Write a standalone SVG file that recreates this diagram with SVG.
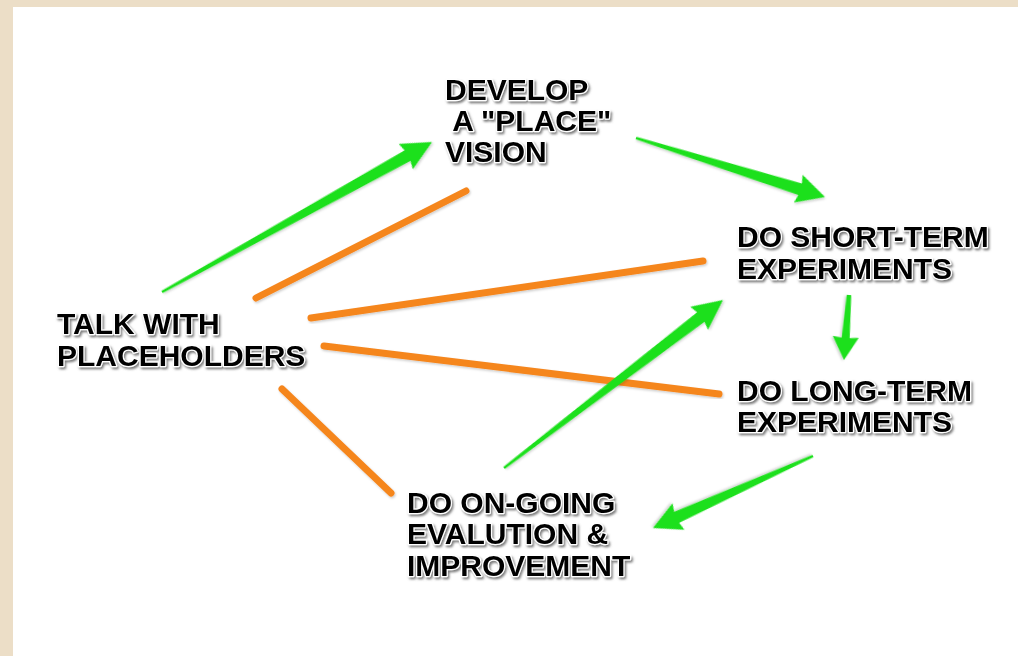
<svg xmlns="http://www.w3.org/2000/svg" width="1018" height="656" viewBox="0 0 1018 656">
<defs>
<style>
.lbl{font-family:"Liberation Sans",Arial,sans-serif;font-weight:bold;font-size:30px;fill:#000;stroke:#fff;stroke-width:2.5px;paint-order:stroke;stroke-linejoin:round;filter:url(#tsh)}
.ol{stroke:#f5861f;stroke-width:7;stroke-linecap:round;fill:none;filter:url(#ash)}
.ga{fill:#1fe01f;filter:url(#ash)}
</style>
<filter id="tsh" x="-10%" y="-30%" width="120%" height="160%">
<feDropShadow dx="1.5" dy="2" stdDeviation="1.2" flood-color="#666" flood-opacity="0.85"/>
</filter>
<filter id="ash" x="-10%" y="-10%" width="120%" height="120%">
<feDropShadow dx="1" dy="1.5" stdDeviation="1.2" flood-color="#000" flood-opacity="0.2"/>
</filter>
</defs>
<rect x="0" y="0" width="1018" height="656" fill="#ecdec7"/>
<rect x="13" y="7" width="1005" height="649" fill="#fff"/>
<g id="connectors">
<line class="ol" x1="256" y1="298" x2="466" y2="191"/>
<line class="ol" x1="311" y1="318" x2="703" y2="261"/>
<line class="ol" x1="324" y1="346" x2="719" y2="394"/>
<line class="ol" x1="282" y1="389" x2="391" y2="493"/>
<path class="ga" transform="translate(162,292) rotate(-29.05)" d="M0,-1.2 L280.9,-6 L278.9,-14.5 L308.9,0 L278.9,14.5 L280.9,6 L0,1.2 Z"/>
<path class="ga" transform="translate(636,138) rotate(17.34)" d="M0,-1.2 L172,-6 L170,-14.5 L198,0 L170,14.5 L172,6 L0,1.2 Z"/>
<path class="ga" transform="translate(849,295) rotate(94.4)" d="M0,-2.2 L43,-4 L42,-13 L65.2,0 L42,13 L43,4 L0,2.2 Z"/>
<path class="ga" transform="translate(813,456) rotate(155.77)" d="M0,-1.2 L149.5,-6 L147.5,-14.5 L175.5,0 L147.5,14.5 L149.5,6 L0,1.2 Z"/>
<path class="ga" transform="translate(504,468) rotate(-37.49)" d="M0,-1.2 L248,-6 L246,-14.5 L276,0 L246,14.5 L248,6 L0,1.2 Z"/>
</g>
<g id="develop">
<text class="lbl" x="445" y="100">DEVELOP</text>
<text class="lbl" x="445" y="131" xml:space="preserve"> A "PLACE"</text>
<text class="lbl" x="445" y="162">VISION</text>
</g>
<g id="talk">
<text class="lbl" x="57" y="334">TALK WITH</text>
<text class="lbl" x="57" y="366">PLACEHOLDERS</text>
</g>
<g id="short">
<text class="lbl" x="737" y="247">DO SHORT-TERM</text>
<text class="lbl" x="737" y="279">EXPERIMENTS</text>
</g>
<g id="long">
<text class="lbl" x="737" y="401">DO LONG-TERM</text>
<text class="lbl" x="737" y="432">EXPERIMENTS</text>
</g>
<g id="ongoing">
<text class="lbl" x="407" y="513">DO ON-GOING</text>
<text class="lbl" x="407" y="544">EVALUTION &amp;</text>
<text class="lbl" x="407" y="576">IMPROVEMENT</text>
</g>
</svg>
